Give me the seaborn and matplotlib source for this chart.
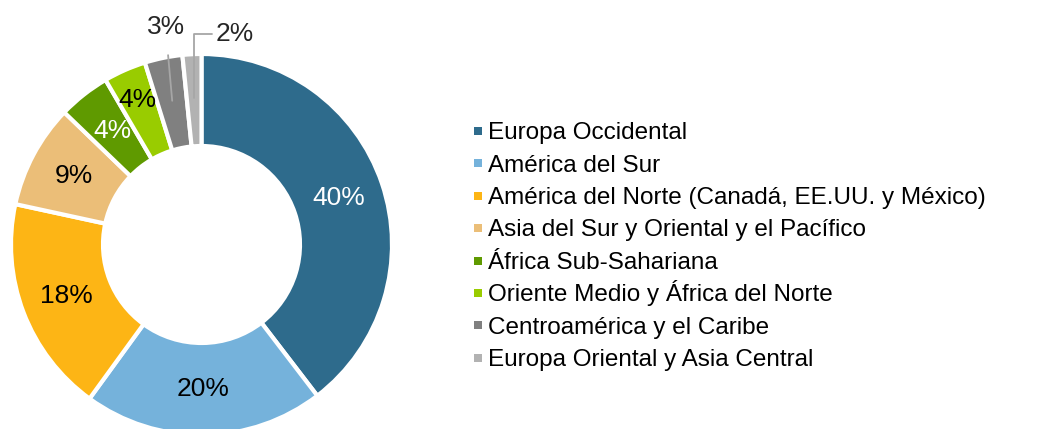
import numpy as np
import matplotlib
matplotlib.use("Agg")
import matplotlib.pyplot as plt
from matplotlib.patches import Rectangle
import seaborn as sns

regions = [
    "Europa Occidental",
    "América del Sur",
    "América del Norte (Canadá, EE.UU. y México)",
    "Asia del Sur y Oriental y el Pacífico",
    "África Sub-Sahariana",
    "Oriente Medio y África del Norte",
    "Centroamérica y el Caribe",
    "Europa Oriental y Asia Central",
]
shares = [39.6, 20.4, 18.4, 8.8, 4.4, 3.6, 3.2, 1.6]
colors = ["#2E6B8C", "#75B2DB", "#FDB515", "#EBBE78",
          "#5F9A00", "#99CC00", "#808080", "#B2B2B2"]
label_colors = ["white", "black", "black", "black", "white", "black", "black", "black"]

sns.set_theme(style="white")
plt.rcParams["font.family"] = ["Liberation Sans", "DejaVu Sans"]

W, H = 1043, 429
fig = plt.figure(figsize=(W / 100, H / 100), dpi=100)
cx, cy, R = 201.5, 429 - 244.5, 190.5
ax = fig.add_axes([(cx - R) / W, (cy - R) / H, 2 * R / W, 2 * R / H])

palette = sns.color_palette(colors)
hole = 0.517
wedges, _ = ax.pie(shares, colors=palette, startangle=90, counterclock=False,
                   radius=1.0, wedgeprops=dict(width=1 - hole, edgecolor="white",
                                               linewidth=3))
ax.set_xlim(-1, 1)
ax.set_ylim(-1, 1)
ax.set_aspect("equal", adjustable="box")
ax.axis("off")

fs = 19
mid_r = (1 + hole) / 2
for i, (w, v) in enumerate(zip(wedges, shares)):
    ang = np.deg2rad((w.theta1 + w.theta2) / 2)
    txt = f"{v:.0f}%"
    if i < 5:
        r = mid_r
        ax.text(r * np.cos(ang), r * np.sin(ang), txt, ha="center", va="center",
                fontsize=fs, color=label_colors[i])
    elif i == 5:
        r = 0.83
        ax.text(r * np.cos(ang), r * np.sin(ang), txt, ha="center", va="center",
                fontsize=fs, color=label_colors[i])
    elif i == 6:
        p0 = (0.77 * np.cos(ang), 0.77 * np.sin(ang))
        tang = np.deg2rad(99.4)
        pt = (1.155 * np.cos(tang), 1.155 * np.sin(tang))
        ax.annotate(txt, xy=p0, xytext=pt, ha="center", va="center", fontsize=fs,
                    annotation_clip=False,
                    arrowprops=dict(arrowstyle="-", color="#A6A6A6", lw=1.3,
                                    shrinkA=9, shrinkB=0))
    else:
        p0 = (0.77 * np.cos(ang), 0.77 * np.sin(ang))
        tang = np.deg2rad(81)
        pt = (1.12 * np.cos(tang), 1.12 * np.sin(tang))
        ax.annotate(txt, xy=p0, xytext=pt, ha="center", va="center", fontsize=fs,
                    annotation_clip=False,
                    arrowprops=dict(arrowstyle="-", color="#A6A6A6", lw=1.3,
                                    shrinkA=0, shrinkB=0, relpos=(0, 0.5),
                                    connectionstyle="angle,angleA=0,angleB=90,rad=0"))

# legend (uniform row spacing, like the reference)
lfs = 17.5
y0, dy = 130.5, 32.4
cap = lfs * 100 / 72 * 0.716
for i, (lab, c) in enumerate(zip(regions, palette)):
    yc = y0 + i * dy
    fig.add_artist(Rectangle((474 / W, 1 - (yc + 4.5) / H), 8 / W, 8 / H,
                             transform=fig.transFigure, facecolor=c,
                             edgecolor="none"))
    fig.text(488 / W, 1 - (yc + cap / 2) / H, lab, fontsize=lfs,
             ha="left", va="baseline", color="black")

fig.savefig("out.png", dpi=100)
